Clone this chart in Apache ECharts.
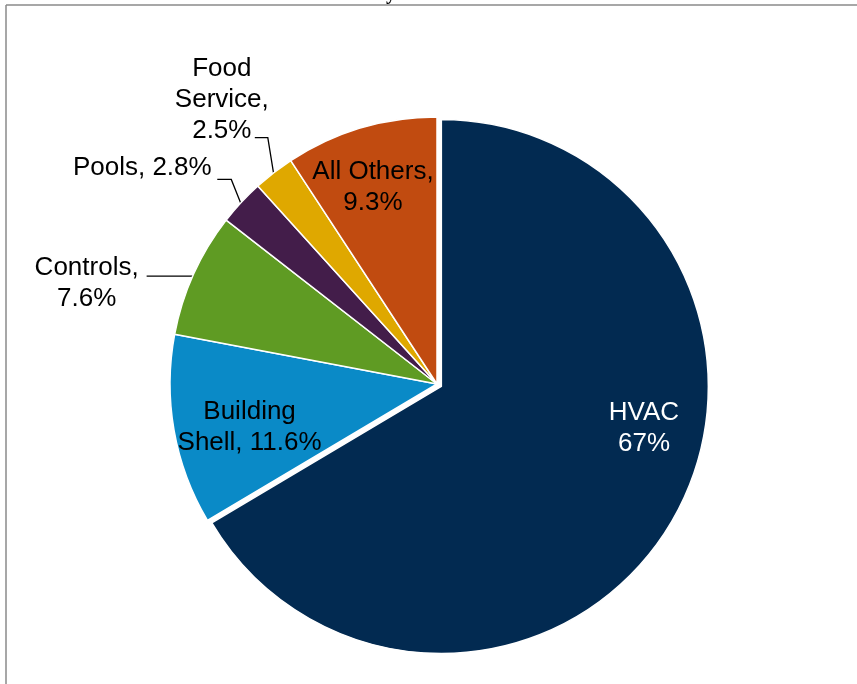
<!DOCTYPE html>
<html>
<head>
<meta charset="utf-8">
<script src="https://cdn.jsdelivr.net/npm/echarts@6/dist/echarts.min.js"></script>
<style>
  html, body { margin: 0; padding: 0; background: #fff; }
  #chart { width: 857px; height: 684px; }
</style>
</head>
<body>
<div id="chart"></div>
<script>
// data
const categories = ['HVAC', 'Building Shell', 'Controls', 'Pools', 'Food Service', 'All Others'];
const shares = [67, 11.6, 7.6, 2.8, 2.5, 9.3];
const labelFormats = [
  'HVAC\n{c}%',
  'Building\nShell, {c}%',
  'Controls,\n{c}%',
  'Pools, {c}%',
  'Food\nService,\n{c}%',
  'All Others,\n{c}%'
];

// looks
const sliceColors = ['#022a51', '#0a8ac7', '#5f9b23', '#431d4a', '#dfa800', '#c14b10'];
const labelColors = ['#fff', '#000', '#000', '#000', '#000', '#000'];
// inside labels: shift from the default spot
const labelShift = [[84, -26], [-53, 20], null, null, null, [-25, -66]];
// outside labels: relative to the point on the slice edge
const leaders = [
  null, null,
  { bend: [0, 0], end: [-47, 0], text: [-107, 9] },
  { bend: [-10, -25], end: [-24, -25], text: [-99, -35] },
  { bend: [-6, -37], end: [-19, -37], text: [-52, -73] },
  null
];
const pieCenter = [437, 384];
const pullOut = 5; // the HVAC slice sits a bit away from the rest

let chart = echarts.init(document.getElementById('chart'));

// direction of the middle of the HVAC slice
let total = shares.reduce(function (a, b) { return a + b; }, 0);
let midAngle = (90 - 360 * shares[0] / total / 2) * Math.PI / 180;
let hvacCenter = [pieCenter[0] + Math.cos(midAngle) * pullOut, pieCenter[1] - Math.sin(midAngle) * pullOut];

function makeData(showIndex) {
  return categories.map(function (name, i) {
    let visible = showIndex(i);
    let outside = leaders[i] != null;
    return {
      name: name,
      value: shares[i],
      itemStyle: visible
        ? { color: sliceColors[i] }
        : { color: 'rgba(0,0,0,0)', borderWidth: 0 },
      label: {
        show: visible,
        position: outside ? 'outside' : 'inside',
        formatter: labelFormats[i],
        color: labelColors[i]
      },
      labelLine: { show: visible && outside, length: 10, length2: 10 }
    };
  });
}

function placeLabel(p) {
  let i = p.dataIndex;
  let lead = leaders[i];
  if (lead && p.labelLinePoints) {
    let p0 = p.labelLinePoints[0];
    return {
      x: p0[0] + lead.text[0],
      y: p0[1] + lead.text[1],
      align: 'center',
      verticalAlign: 'middle',
      labelLinePoints: [
        [p0[0], p0[1] + 2],
        [p0[0] + lead.bend[0], p0[1] + lead.bend[1] + 2],
        [p0[0] + lead.end[0], p0[1] + lead.end[1] + 2]
      ]
    };
  }
  let s = labelShift[i] || [0, 0];
  let r = p.labelRect;
  return {
    x: r.x + r.width / 2 + s[0],
    y: r.y + r.height / 2 + s[1],
    align: 'center',
    verticalAlign: 'middle'
  };
}

let baseSeries = {
  type: 'pie',
  radius: 267,
  startAngle: 90,
  clockwise: true,
  avoidLabelOverlap: false,
  silent: true,
  itemStyle: { borderColor: '#fff', borderWidth: 1.5 },
  emphasis: { disabled: true },
  label: {
    fontFamily: '"Liberation Sans", Arial, sans-serif',
    fontSize: 26,
    lineHeight: 31
  },
  labelLine: {
    smooth: false,
    lineStyle: { color: '#000', width: 1.3 }
  },
  labelLayout: placeLabel
};

chart.setOption({
  animation: false,
  backgroundColor: '#fff',
  graphic: [
    { type: 'line', shape: { x1: 6, y1: 5, x2: 857, y2: 5 }, style: { stroke: '#8a8a8a', lineWidth: 1.5 } },
    { type: 'line', shape: { x1: 6, y1: 5, x2: 6, y2: 684 }, style: { stroke: '#8a8a8a', lineWidth: 1.5 } },
    { type: 'text', x: 386, y: 4, style: { text: 'y', font: 'bold 20px "Liberation Serif"', textVerticalAlign: 'bottom', fill: '#000' } }
  ],
  series: [
    Object.assign({}, baseSeries, {
      center: pieCenter,
      data: makeData(function (i) { return i !== 0; })
    }),
    Object.assign({}, baseSeries, {
      center: hvacCenter,
      data: makeData(function (i) { return i === 0; })
    })
  ]
});
</script>
</body>
</html>
